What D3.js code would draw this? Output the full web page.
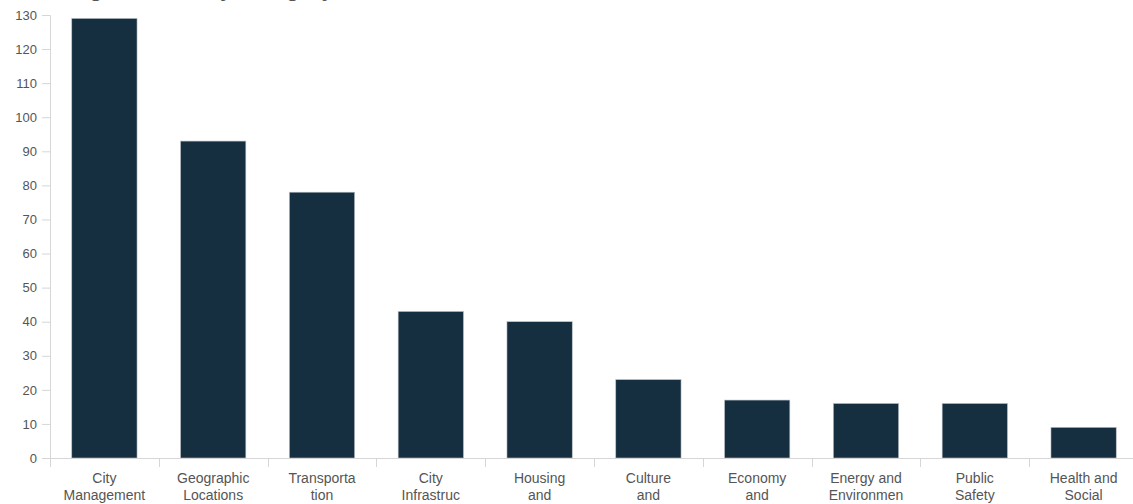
<!DOCTYPE html>
<html>
<head>
<meta charset="utf-8">
<script src="https://cdn.jsdelivr.net/npm/d3@7"></script>
<style>
  body { margin: 0; background: #fff; }
  svg { display: block; font-family: Arial, "Liberation Sans", sans-serif; }
</style>
</head>
<body>
<script>
var categories = ["City Management", "Geographic Locations", "Transportation", "City Infrastructure",
  "Housing and Development", "Culture and Recreation", "Economy and Business",
  "Energy and Environment", "Public Safety", "Health and Social Services"];
var counts = [129, 93, 78, 43, 40, 23, 17, 16, 16, 9];
var yTicks = [0, 10, 20, 30, 40, 50, 60, 70, 80, 90, 100, 110, 120, 130];

var width = 1133, height = 504;
var margin = {top: 15, right: -5, bottom: 46, left: 50};

var data1 = categories.map((c, i) => ({name: c, value: counts[i]}));

var svg = d3.select("body").append("svg")
    .attr("width", width)
    .attr("height", height);

var x = d3.scaleBand()
    .domain(categories)
    .range([margin.left, width - margin.right])
    .paddingInner(0.4)
    .paddingOuter(0.2);

var y = d3.scaleLinear()
    .domain([0, 130])
    .range([height - margin.bottom, margin.top]);

// title, mostly scrolled off the top
svg.append("text")
    .attr("x", 22)
    .attr("y", -4.5)
    .attr("font-size", "22px")
    .attr("font-weight", "bold")
    .attr("fill", "#555")
    .text("Catalog Datasets by Category");

// y axis
var yAxis = svg.append("g")
    .attr("transform", `translate(${margin.left},0)`)
    .call(d3.axisLeft(y).tickValues(yTicks).tickSize(8).tickPadding(5));
yAxis.selectAll("path, line").attr("stroke", "#d6d6d6");
yAxis.selectAll("text").attr("fill", "#555").attr("font-size", "13px")
    .attr("font-family", "Arial, 'Liberation Sans', sans-serif");

// bars
svg.append("g")
  .selectAll("rect")
  .data(data1)
  .join("rect")
    .attr("x", d => x(d.name))
    .attr("y", d => y(d.value))
    .attr("width", x.bandwidth())
    .attr("height", d => y(0) - y(d.value))
    .attr("fill", "#152f40")
    .attr("stroke", "#b9c0c5")
    .attr("stroke-width", 0.6);

// x axis line
var x0 = y(0);
svg.append("line")
    .attr("x1", margin.left).attr("x2", width)
    .attr("y1", x0 + 0.5).attr("y2", x0 + 0.5)
    .attr("stroke", "#d6d6d6");

// boundary ticks between categories
var gap = (x.step() - x.bandwidth()) / 2;
svg.append("g")
  .selectAll("line")
  .data(categories)
  .join("line")
    .attr("x1", d => Math.round(x(d) - gap) + 0.5)
    .attr("x2", d => Math.round(x(d) - gap) + 0.5)
    .attr("y1", x0)
    .attr("y2", x0 + 9)
    .attr("stroke", "#d6d6d6");

// category labels, wrapped at 10 chars
function wrapLabel(s) {
  var words = s.split(" "), lines = [], cur = "";
  words.forEach(function(w) {
    var t = cur ? cur + " " + w : w;
    if (t.length <= 10) { cur = t; return; }
    if (cur) lines.push(cur);
    while (w.length > 10) { lines.push(w.slice(0, 10)); w = w.slice(10); }
    cur = w;
  });
  if (cur) lines.push(cur);
  return lines;
}

svg.append("g")
  .selectAll("text")
  .data(categories)
  .join("text")
    .attr("x", d => x(d) + x.bandwidth() / 2)
    .attr("y", x0 + 25)
    .attr("text-anchor", "middle")
    .attr("font-size", "14px")
    .attr("fill", "#555")
    .each(function(d) {
      var t = d3.select(this);
      wrapLabel(d).forEach(function(l, i) {
        t.append("tspan")
          .attr("x", x(d) + x.bandwidth() / 2)
          .attr("dy", i === 0 ? 0 : 16.5)
          .text(l);
      });
    });
</script>
</body>
</html>
